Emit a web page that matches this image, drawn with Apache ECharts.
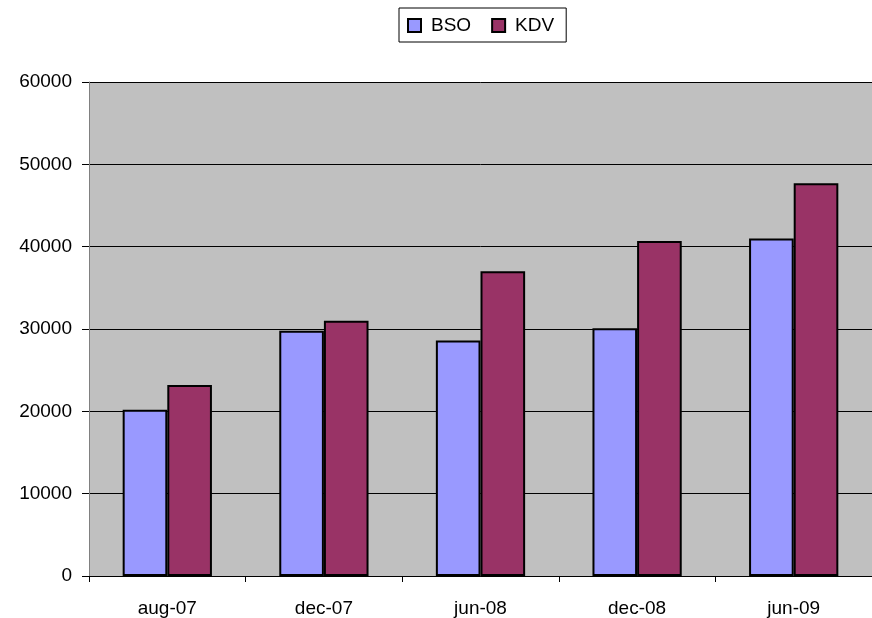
<!DOCTYPE html>
<html>
<head>
    <meta http-equiv="Content-Type" content="text/html; charset=utf-8">
    <title>BSO / KDV</title>
    <script src="https://cdn.jsdelivr.net/npm/echarts@6/dist/echarts.min.js"></script>
    <style>
        body { margin: 0; background: #fff; }
    </style>
</head>
<body>
    <div id="chart" style="width: 872px; height: 618px;"></div>
    <script type="text/javascript">
        var categories = ['aug-07', 'dec-07', 'jun-08', 'dec-08', 'jun-09'];
        var bsoValues = [20200, 29800, 28600, 30100, 41000];
        var kdvValues = [23200, 31000, 37000, 40700, 47700];
        var yTicks = [0, 10000, 20000, 30000, 40000, 50000, 60000];

        var font = 'Liberation Sans, Arial, sans-serif';
        var chart = echarts.init(document.getElementById('chart'));
        var option = {
            animation: false,
            textStyle: { fontFamily: font },
            legend: {
                left: 399,
                top: 8,
                padding: [8, 12, 7, 8],
                itemGap: 20,
                itemWidth: 13,
                itemHeight: 13,
                borderColor: '#000',
                borderWidth: 1,
                icon: 'rect',
                itemStyle: { borderColor: '#000', borderWidth: 2 },
                textStyle: { fontSize: 19, color: '#000', fontFamily: font, padding: [0, 0, 0, 5] },
                data: ['BSO', 'KDV']
            },
            grid: {
                left: 89,
                right: 0,
                top: 82,
                bottom: 42,
                show: true,
                backgroundColor: '#c0c0c0',
                borderWidth: 0
            },
            xAxis: {
                type: 'category',
                data: categories,
                axisLine: { show: true, lineStyle: { color: '#000', width: 1 } },
                axisTick: { show: true, length: 6, lineStyle: { color: '#000' } },
                axisLabel: { fontSize: 19, color: '#000', margin: 23, fontFamily: font }
            },
            yAxis: {
                type: 'value',
                min: yTicks[0],
                max: yTicks[yTicks.length - 1],
                interval: 10000,
                axisLine: { show: true, lineStyle: { color: '#808080', width: 1 } },
                axisTick: { show: true, length: 7, lineStyle: { color: '#000' } },
                axisLabel: {
                    fontSize: 19, color: '#000', margin: 17, fontFamily: font,
                    formatter: function (v) { return String(v); }
                },
                splitLine: { show: true, lineStyle: { color: '#000', width: 1 } }
            },
            series: [
                {
                    name: 'BSO',
                    type: 'bar',
                    data: bsoValues,
                    barGap: '0%',
                    barCategoryGap: '43%',
                    itemStyle: { color: '#9999ff', borderColor: '#000', borderWidth: 2 }
                },
                {
                    name: 'KDV',
                    type: 'bar',
                    data: kdvValues,
                    itemStyle: { color: '#993366', borderColor: '#000', borderWidth: 2 }
                }
            ]
        };
        chart.setOption(option);
    </script>
</body>
</html>
